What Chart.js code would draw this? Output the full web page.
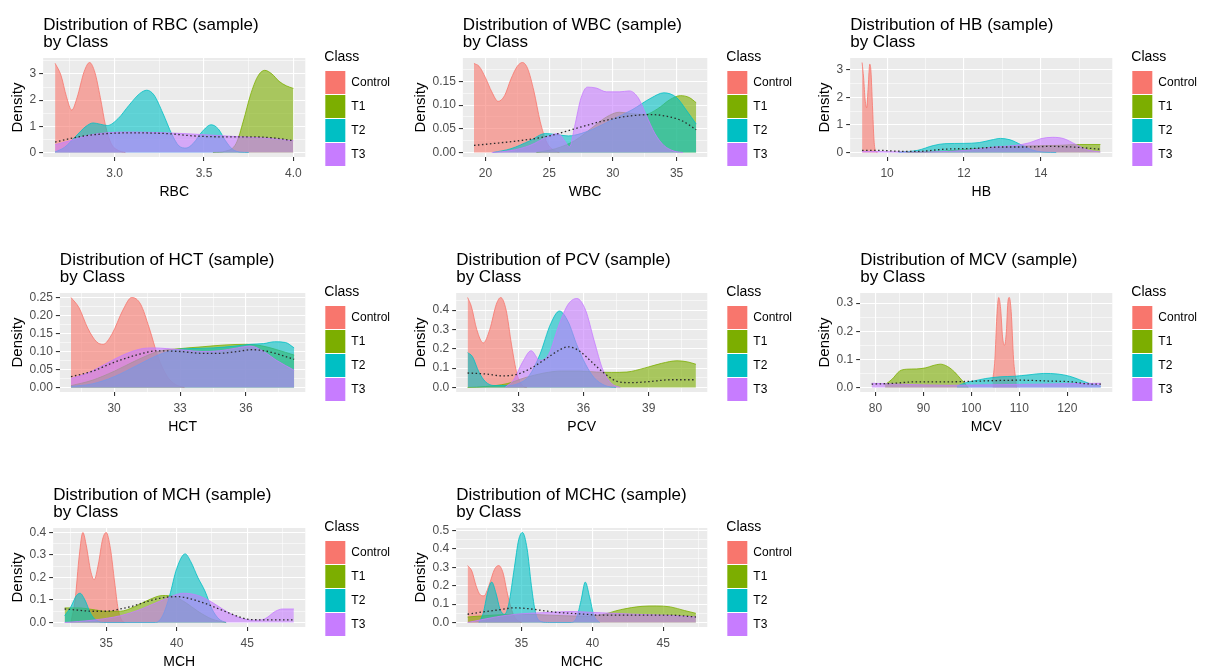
<!DOCTYPE html>
<html>
<head>
<meta charset="utf-8">
<title>Distribution by Class</title>
<script src="https://cdn.jsdelivr.net/npm/chart.js@4.4.1/dist/chart.umd.min.js"></script>
<style>
  html, body { margin: 0; padding: 0; background: #fff; overflow: hidden; }
  .cell { position: absolute; }
</style>
</head>
<body>
<div id="grid"></div>
<script>
// Classes and ggplot default hue colours
const classNames = ['Control', 'T1', 'T2', 'T3'];
const classColors = ['#F8766D', '#7CAE00', '#00BFC4', '#C77CFF'];

// Density curves, [value, density] pairs
// RBC
const rbcControl = [[2.667,3.41],[2.70,2.95],[2.73,2.15],[2.76,1.62],[2.79,2.1],[2.83,3.1],[2.86,3.44],[2.89,3.05],[2.92,2.1],[2.95,1.0],[2.98,0.35],[3.02,0.08],[3.06,0]];
const rbcT1 = [[3.55,0],[3.62,0.05],[3.68,0.35],[3.72,1.2],[3.76,2.2],[3.80,2.9],[3.84,3.14],[3.88,3.0],[3.92,2.72],[3.96,2.55],[4.0,2.45]];
const rbcT2 = [[2.667,0.02],[2.72,0.2],[2.78,0.6],[2.84,1.0],[2.88,1.13],[2.92,1.08],[2.96,1.03],[3.02,1.3],[3.08,1.8],[3.14,2.25],[3.18,2.38],[3.22,2.2],[3.27,1.5],[3.32,0.7],[3.36,0.25],[3.40,0.17],[3.44,0.35],[3.49,0.8],[3.54,1.06],[3.58,0.9],[3.62,0.45],[3.66,0.12],[3.70,0.02],[3.75,0]];
const rbcT3 = [[2.667,0.3],[2.75,0.45],[2.85,0.65],[2.95,0.75],[3.1,0.78],[3.25,0.76],[3.4,0.72],[3.55,0.66],[3.7,0.6],[3.85,0.55],[4.0,0.45]];
const rbcAll = [[2.667,0.4],[2.8,0.6],[2.95,0.72],[3.1,0.75],[3.3,0.72],[3.45,0.63],[3.6,0.6],[3.75,0.6],[3.9,0.55],[4.0,0.45]];
const rbcXTicks = [3.0, 3.5, 4.0];
const rbcXLabels = ['3.0', '3.5', '4.0'];
const rbcYTicks = [0, 1, 2, 3];
const rbcYLabels = ['0', '1', '2', '3'];

// WBC
const wbcControl = [[19.1,0.188],[19.5,0.182],[20.0,0.158],[20.5,0.128],[21.0,0.108],[21.5,0.12],[22.0,0.155],[22.5,0.182],[22.9,0.19],[23.3,0.178],[23.8,0.13],[24.3,0.065],[24.8,0.022],[25.3,0.006],[25.8,0]];
const wbcT1 = [[24.0,0],[25.5,0.008],[27,0.025],[28.5,0.055],[29.5,0.075],[30.5,0.085],[31.5,0.082],[32.5,0.08],[33.5,0.092],[34.5,0.112],[35.3,0.12],[36,0.116],[36.54,0.105]];
const wbcT2 = [[20.6,0],[22,0.008],[23.5,0.025],[24.7,0.04],[25.5,0.038],[26.5,0.035],[27.5,0.04],[28.5,0.05],[30,0.07],[31.5,0.09],[33,0.115],[34,0.126],[35,0.116],[35.8,0.088],[36.54,0.06]];
const wbcT3 = [[20.5,0],[22,0.004],[23.5,0.015],[25,0.035],[25.7,0.04],[26.2,0.025],[26.6,0.012],[27.0,0.055],[27.5,0.115],[28.0,0.138],[28.7,0.136],[29.5,0.128],[30.5,0.128],[31.3,0.13],[32,0.115],[32.6,0.08],[33.3,0.04],[34,0.015],[34.8,0.003],[35.5,0]];
const wbcAll = [[19.1,0.015],[21,0.02],[23,0.026],[25,0.035],[27,0.05],[29,0.065],[31,0.076],[33,0.08],[34.5,0.075],[35.5,0.066],[36.54,0.048]];
const wbcXTicks = [20, 25, 30, 35];
const wbcXLabels = ['20', '25', '30', '35'];
const wbcYTicks = [0, 0.05, 0.10, 0.15];
const wbcYLabels = ['0.00', '0.05', '0.10', '0.15'];

// HB
const hbControl = [[9.35,3.26],[9.39,2.7],[9.43,1.9],[9.47,1.62],[9.51,2.4],[9.55,3.2],[9.58,2.95],[9.62,1.7],[9.66,0.45],[9.70,0.06],[9.75,0]];
const hbT1 = [[10.5,0],[11.5,0.05],[12.3,0.14],[13,0.2],[13.8,0.24],[14.5,0.26],[15,0.29],[15.55,0.29]];
const hbT2 = [[10.3,0.01],[10.8,0.08],[11.2,0.25],[11.5,0.32],[12.0,0.33],[12.4,0.36],[12.7,0.45],[12.95,0.51],[13.2,0.46],[13.5,0.27],[13.8,0.08],[14.1,0.015],[14.4,0]];
const hbT3 = [[9.35,0.04],[10,0.03],[10.6,0.02],[11.6,0.04],[12.2,0.1],[12.8,0.2],[13.3,0.25],[13.7,0.35],[14.0,0.5],[14.3,0.55],[14.6,0.5],[14.9,0.3],[15.2,0.1],[15.55,0.02]];
const hbAll = [[9.35,0.08],[9.8,0.08],[10.2,0.05],[10.8,0.04],[11.5,0.12],[12.3,0.15],[13,0.2],[13.6,0.2],[14.2,0.22],[14.8,0.2],[15.55,0.12]];
const hbXTicks = [10, 12, 14];
const hbXLabels = ['10', '12', '14'];
const hbYTicks = [0, 1, 2, 3];
const hbYLabels = ['0', '1', '2', '3'];

// HCT
const hctControl = [[28.04,0.25],[28.4,0.222],[28.8,0.165],[29.2,0.127],[29.5,0.12],[29.9,0.148],[30.4,0.215],[30.8,0.25],[31.2,0.232],[31.6,0.165],[32.0,0.085],[32.4,0.032],[32.8,0.008],[33.2,0]];
const hctT1 = [[28.04,0.005],[29,0.02],[30,0.045],[31,0.075],[32,0.1],[33,0.108],[34,0.113],[35,0.118],[36,0.12],[36.7,0.116],[37.4,0.105],[38.19,0.09]];
const hctT2 = [[28.04,0.003],[29,0.01],[30,0.03],[31,0.06],[32,0.09],[32.8,0.105],[33.5,0.108],[34.5,0.11],[35.5,0.115],[36.2,0.12],[36.8,0.122],[37.3,0.127],[37.8,0.125],[38.19,0.11]];
const hctT3 = [[28.04,0.025],[28.8,0.04],[29.6,0.065],[30.4,0.09],[31.2,0.107],[31.8,0.11],[32.4,0.108],[33.2,0.104],[34,0.1],[34.8,0.102],[35.6,0.11],[36.2,0.115],[36.8,0.1],[37.4,0.075],[38.19,0.048]];
const hctAll = [[28.04,0.03],[29,0.045],[30,0.07],[31,0.09],[32,0.102],[33,0.1],[34,0.095],[34.8,0.095],[35.6,0.1],[36.3,0.105],[37,0.1],[37.6,0.09],[38.19,0.078]];
const hctXTicks = [30, 33, 36];
const hctXLabels = ['30', '33', '36'];
const hctYTicks = [0, 0.05, 0.10, 0.15, 0.20, 0.25];
const hctYLabels = ['0.00', '0.05', '0.10', '0.15', '0.20', '0.25'];

// PCV
const pcvControl = [[30.68,0.465],[30.85,0.42],[31.1,0.3],[31.4,0.23],[31.7,0.3],[32.0,0.43],[32.2,0.465],[32.45,0.4],[32.7,0.22],[32.95,0.07],[33.2,0.01],[33.4,0]];
const pcvT1 = [[30.68,0],[31.5,0.005],[32.5,0.02],[33.3,0.05],[34.2,0.075],[35,0.085],[35.8,0.085],[36.6,0.08],[37.3,0.078],[38,0.08],[38.8,0.1],[39.6,0.125],[40.3,0.138],[40.8,0.132],[41.17,0.12]];
const pcvT2 = [[30.68,0.18],[30.9,0.16],[31.2,0.08],[31.5,0.03],[31.9,0.01],[32.5,0.01],[33.0,0.02],[33.5,0.06],[34.0,0.17],[34.5,0.33],[34.9,0.395],[35.3,0.34],[35.7,0.22],[36.1,0.12],[36.5,0.05],[37.0,0.01],[37.5,0]];
const pcvT3 = [[32.4,0],[32.8,0.04],[33.2,0.13],[33.6,0.19],[34.0,0.14],[34.4,0.17],[34.9,0.33],[35.3,0.43],[35.7,0.46],[36.1,0.4],[36.5,0.24],[36.9,0.09],[37.3,0.02],[37.7,0]];
const pcvAll = [[30.68,0.075],[31.5,0.07],[32.3,0.06],[33,0.07],[33.6,0.1],[34.3,0.15],[35,0.2],[35.3,0.21],[35.8,0.19],[36.4,0.13],[37,0.07],[37.6,0.03],[38.2,0.025],[39,0.03],[40,0.04],[41.17,0.04]];
const pcvXTicks = [33, 36, 39];
const pcvXLabels = ['33', '36', '39'];
const pcvYTicks = [0, 0.1, 0.2, 0.3, 0.4];
const pcvYLabels = ['0.0', '0.1', '0.2', '0.3', '0.4'];

// MCV
const mcvControl = [[104.4,0.02],[104.9,0.1],[105.3,0.25],[105.7,0.32],[106.1,0.28],[106.5,0.18],[106.9,0.15],[107.3,0.2],[107.6,0.3],[107.9,0.32],[108.3,0.27],[108.8,0.1],[109.3,0.02],[109.4,0]];
const mcvT1 = [[82,0.01],[83.5,0.03],[85,0.058],[86.5,0.065],[88.5,0.066],[90.5,0.07],[92,0.078],[93.5,0.083],[95,0.075],[96.5,0.055],[97.8,0.03],[98.6,0.015],[99.3,0]];
const mcvT2 = [[97,0.005],[99,0.018],[101,0.025],[103,0.032],[106,0.038],[109,0.04],[112,0.045],[115,0.05],[118,0.048],[120.5,0.04],[122.5,0.028],[124.5,0.015],[126,0.008],[127,0.005]];
const mcvT3 = [[79.2,0.015],[85,0.012],[95,0.008],[105,0.01],[115,0.012],[121,0.014],[127,0.015]];
const mcvAll = [[79.2,0.012],[84,0.015],[88,0.02],[95,0.02],[100,0.022],[106,0.025],[110,0.026],[116,0.023],[121,0.02],[124,0.013],[127,0.012]];
const mcvXTicks = [80, 90, 100, 110, 120];
const mcvXLabels = ['80', '90', '100', '110', '120'];
const mcvYTicks = [0, 0.1, 0.2, 0.3];
const mcvYLabels = ['0.0', '0.1', '0.2', '0.3'];

// MCH
const mchControl = [[32.5,0],[32.8,0.1],[33.1,0.3],[33.35,0.4],[33.6,0.34],[33.9,0.23],[34.15,0.19],[34.45,0.26],[34.75,0.37],[35.0,0.4],[35.3,0.33],[35.6,0.18],[35.85,0.06],[36.1,0.01],[36.3,0]];
const mchT1 = [[32.06,0.065],[33,0.065],[34,0.058],[35,0.05],[36,0.05],[37,0.07],[38,0.1],[39,0.12],[39.8,0.115],[40.6,0.09],[41.5,0.05],[42.5,0.015],[43.5,0]];
const mchT2 = [[32.06,0.03],[32.5,0.07],[32.9,0.12],[33.15,0.13],[33.5,0.1],[33.9,0.04],[34.3,0.01],[35,0],[38.5,0],[39.0,0.03],[39.5,0.12],[40.0,0.24],[40.6,0.305],[41.0,0.27],[41.5,0.2],[42.0,0.14],[42.5,0.06],[43.0,0.015],[43.5,0]];
const mchT3 = [[32.06,0],[34,0.01],[36,0.03],[37.5,0.06],[39,0.1],[40.5,0.13],[41.5,0.12],[42.5,0.09],[43.5,0.05],[44.5,0.02],[45.5,0.01],[46.2,0.015],[47,0.05],[47.5,0.06],[48.3,0.06]];
const mchAll = [[32.06,0.06],[33,0.055],[34,0.05],[35,0.05],[36,0.06],[37,0.075],[38,0.095],[39,0.11],[40,0.115],[41,0.105],[42,0.085],[43,0.06],[44,0.035],[45,0.015],[46,0.012],[47,0.012],[48.3,0.012]];
const mchXTicks = [35, 40, 45];
const mchXLabels = ['35', '40', '45'];
const mchYTicks = [0, 0.1, 0.2, 0.3, 0.4];
const mchYLabels = ['0.0', '0.1', '0.2', '0.3', '0.4'];

// MCHC
const mchcControl = [[31.2,0.31],[31.5,0.28],[31.8,0.2],[32.1,0.15],[32.35,0.145],[32.7,0.2],[33.1,0.29],[33.4,0.31],[33.7,0.27],[34.0,0.16],[34.3,0.07],[34.6,0.02],[35.0,0]];
const mchcT1 = [[31.2,0.03],[33,0.04],[35,0.045],[37,0.04],[39,0.035],[40.5,0.04],[42,0.07],[43.5,0.088],[44.5,0.09],[45.5,0.085],[46.5,0.065],[47.3,0.05]];
const mchcT2 = [[32.0,0],[32.3,0.05],[32.6,0.16],[32.9,0.22],[33.2,0.16],[33.5,0.07],[33.8,0.045],[34.1,0.1],[34.5,0.3],[34.8,0.45],[35.07,0.49],[35.4,0.4],[35.7,0.2],[36.0,0.05],[36.4,0.005],[37,0],[38.5,0],[38.9,0.03],[39.2,0.12],[39.5,0.22],[39.8,0.14],[40.1,0.04],[40.5,0]];
const mchcT3 = [[31.2,0],[32.5,0.02],[34,0.04],[35.5,0.05],[37,0.055],[38.5,0.06],[40,0.055],[41.5,0.05],[43,0.045],[45,0.04],[47.3,0.03]];
const mchcAll = [[31.2,0.045],[32.5,0.06],[33.5,0.07],[34.5,0.08],[35.5,0.075],[36.5,0.065],[37.5,0.055],[38.5,0.05],[39.5,0.045],[40.5,0.04],[42,0.04],[44,0.04],[45.5,0.04],[47.3,0.03]];
const mchcXTicks = [35, 40, 45];
const mchcXLabels = ['35', '40', '45'];
const mchcYTicks = [0, 0.1, 0.2, 0.3, 0.4, 0.5];
const mchcYLabels = ['0.0', '0.1', '0.2', '0.3', '0.4', '0.5'];

// Panel list built from the arrays above
const panels = [
  { name: 'RBC', row: 0, col: 0, curves: [rbcControl, rbcT1, rbcT2, rbcT3], all: rbcAll, xTicks: rbcXTicks, xLabels: rbcXLabels, yTicks: rbcYTicks, yLabels: rbcYLabels },
  { name: 'WBC', row: 0, col: 1, curves: [wbcControl, wbcT1, wbcT2, wbcT3], all: wbcAll, xTicks: wbcXTicks, xLabels: wbcXLabels, yTicks: wbcYTicks, yLabels: wbcYLabels },
  { name: 'HB', row: 0, col: 2, curves: [hbControl, hbT1, hbT2, hbT3], all: hbAll, xTicks: hbXTicks, xLabels: hbXLabels, yTicks: hbYTicks, yLabels: hbYLabels },
  { name: 'HCT', row: 1, col: 0, curves: [hctControl, hctT1, hctT2, hctT3], all: hctAll, xTicks: hctXTicks, xLabels: hctXLabels, yTicks: hctYTicks, yLabels: hctYLabels },
  { name: 'PCV', row: 1, col: 1, curves: [pcvControl, pcvT1, pcvT2, pcvT3], all: pcvAll, xTicks: pcvXTicks, xLabels: pcvXLabels, yTicks: pcvYTicks, yLabels: pcvYLabels },
  { name: 'MCV', row: 1, col: 2, curves: [mcvControl, mcvT1, mcvT2, mcvT3], all: mcvAll, xTicks: mcvXTicks, xLabels: mcvXLabels, yTicks: mcvYTicks, yLabels: mcvYLabels },
  { name: 'MCH', row: 2, col: 0, curves: [mchControl, mchT1, mchT2, mchT3], all: mchAll, xTicks: mchXTicks, xLabels: mchXLabels, yTicks: mchYTicks, yLabels: mchYLabels },
  { name: 'MCHC', row: 2, col: 1, curves: [mchcControl, mchcT1, mchcT2, mchcT3], all: mchcAll, xTicks: mchcXTicks, xLabels: mchcXLabels, yTicks: mchcYTicks, yLabels: mchcYLabels }
];

// Page layout of the 3x3 grid of plots
const colLeft = [0, 403, 807];
const colWidth = [403, 404, 404];
const colPadRight = [3, 5, 4];
const rowTop = [0, 235, 470];
const cellHeight = 201;

Chart.defaults.font.family = '"Liberation Sans", Arial, sans-serif';

function fade(hex, a) {
  const n = parseInt(hex.slice(1), 16);
  return `rgba(${(n >> 16) & 255}, ${(n >> 8) & 255}, ${n & 255}, ${a})`;
}

// major breaks plus ggplot-style minor breaks halfway between them
function gridValues(major, min, max) {
  const half = (major[1] - major[0]) / 2;
  const vals = [];
  for (let j = -40; j <= 2 * major.length + 40; j++) {
    const v = major[0] + j * half;
    if (v >= min && v <= max) vals.push(v);
  }
  return vals;
}

function majorIndex(major, v) {
  return major.findIndex(m => Math.abs(m - v) < 1e-9);
}

// grey panel background behind the grid
const panelBackground = {
  id: 'panelBackground',
  beforeDraw(chart) {
    const { ctx, chartArea: a } = chart;
    ctx.save();
    ctx.fillStyle = '#EBEBEB';
    ctx.fillRect(a.left, a.top, a.right - a.left, a.bottom - a.top);
    ctx.restore();
  }
};

function axisOptions(major, labels, min, max, isX) {
  return {
    type: 'linear',
    position: isX ? 'bottom' : 'left',
    min: min,
    max: max,
    afterBuildTicks: axis => { axis.ticks = gridValues(major, min, max).map(v => ({ value: v })); },
    ticks: {
      autoSkip: false,
      maxRotation: 0,
      color: '#4D4D4D',
      font: { size: 12 },
      padding: isX ? 5 : 3,
      callback: v => { const i = majorIndex(major, v); return i >= 0 ? labels[i] : ''; }
    },
    grid: {
      color: '#FFFFFF',
      lineWidth: c => (c.tick && majorIndex(major, c.tick.value) >= 0) ? 1.1 : 0.55,
      tickColor: c => (c.tick && majorIndex(major, c.tick.value) >= 0) ? '#333333' : 'rgba(0,0,0,0)',
      tickLength: 4,
      drawTicks: true
    },
    border: { display: false }
  };
}

panels.forEach(p => {
  // axis limits: data range expanded by 5% like ggplot
  const everything = p.curves.concat([p.all]).flat();
  const xs = everything.map(d => d[0]);
  const ys = everything.map(d => d[1]);
  const xMin = Math.min(...xs), xMax = Math.max(...xs);
  const yMax = Math.max(...ys);
  const xPad = (xMax - xMin) * 0.05;

  const div = document.createElement('div');
  div.className = 'cell';
  div.style.left = colLeft[p.col] + 'px';
  div.style.top = rowTop[p.row] + 'px';
  const canvas = document.createElement('canvas');
  canvas.width = colWidth[p.col];
  canvas.height = cellHeight;
  div.appendChild(canvas);
  document.getElementById('grid').appendChild(div);

  const datasets = p.curves.map((curve, i) => ({
    label: classNames[i],
    data: curve.map(([x, y]) => ({ x, y })),
    borderColor: classColors[i],
    backgroundColor: fade(classColors[i], 0.6),
    borderWidth: 0.8,
    fill: 'origin',
    pointRadius: 0,
    cubicInterpolationMode: 'monotone',
    order: 4 - i
  }));
  // overall density, dotted
  datasets.push({
    label: 'All',
    data: p.all.map(([x, y]) => ({ x, y })),
    borderColor: '#2B2B2B',
    borderDash: [1.5, 2.5],
    borderWidth: 1.3,
    fill: false,
    pointRadius: 0,
    cubicInterpolationMode: 'monotone',
    order: 0
  });

  const xAxis = axisOptions(p.xTicks, p.xLabels, xMin - xPad, xMax + xPad, true);
  xAxis.title = { display: true, text: p.name, color: '#000', font: { size: 14, lineHeight: 1 }, padding: { top: 0, bottom: 2 } };
  xAxis.afterFit = s => { s.height = 44; };
  const yAxis = axisOptions(p.yTicks, p.yLabels, -0.05 * yMax, 1.05 * yMax, false);
  yAxis.title = { display: true, text: 'Density', color: '#000', font: { size: 15, lineHeight: 1 }, padding: { top: 2.5, bottom: 1 } };

  new Chart(canvas, {
    type: 'line',
    data: { datasets },
    plugins: [panelBackground],
    options: {
      responsive: false,
      animation: false,
      events: [],
      layout: { padding: { top: 10, left: 8, right: colPadRight[p.col], bottom: 0 } },
      scales: {
        x: xAxis,
        y: yAxis,
        // empty strip between the panel and the legend
        gap: {
          type: 'linear', position: 'right', display: true,
          grid: { display: false }, ticks: { display: false }, border: { display: false },
          afterFit: s => { s.width = 19; }
        }
      },
      plugins: {
        tooltip: { enabled: false },
        title: {
          display: true,
          text: ['Distribution of ' + p.name + ' (sample)', 'by Class'],
          align: 'start',
          fullSize: false,
          color: '#000',
          font: { size: 17, lineHeight: 1, weight: 'normal' },
          padding: { top: 6.5, bottom: 7.5 }
        },
        legend: {
          position: 'right',
          align: 'start',
          maxWidth: 120,
          onClick: null,
          title: { display: true, text: 'Class', position: 'start', color: '#000', font: { size: 14 }, padding: { top: 40, bottom: 3.2 } },
          labels: {
            boxWidth: 20,
            boxHeight: 23,
            padding: 1,
            color: '#000',
            font: { size: 12 },
            generateLabels: chart => chart.data.datasets
              .map((ds, i) => ({ text: ds.label, fillStyle: classColors[i], strokeStyle: classColors[i], lineWidth: 0, hidden: false, datasetIndex: i }))
              .filter(item => item.text !== 'All')
          }
        }
      }
    }
  });
});
</script>
</body>
</html>
